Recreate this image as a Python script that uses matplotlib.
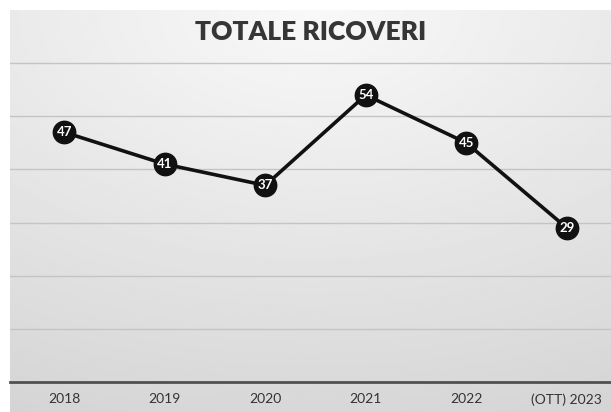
import numpy as np
import matplotlib.pyplot as plt

anni = ["2018", "2019", "2020", "2021", "2022", "(OTT) 2023"]
ricoveri = [47, 41, 37, 54, 45, 29]

W, H = 611, 412
fig = plt.figure(figsize=(W / 100, H / 100), dpi=100)
fig.patch.set_facecolor("white")

# sfondo grigio sfumato (chiaro in alto al centro, più scuro verso il basso)
bg = fig.add_axes([10 / W, 0, 1 - 10 / W, 402 / H])
yy, xx = np.mgrid[0:1:200j, 0:1:300j]
d = np.sqrt(((xx - 0.5) * 0.9) ** 2 + (yy * 1.0) ** 2)
shade = 0.975 - 0.13 * np.clip(d, 0, 1.1)
bg.imshow(shade, cmap="gray", vmin=0, vmax=1, aspect="auto", origin="upper",
          extent=[0, 1, 0, 1])
bg.axis("off")

ax = fig.add_axes([10 / W, 30 / H, 1 - 10 / W, 372 / H])
ax.patch.set_alpha(0)
x = np.arange(len(anni))
ax.set_xlim(-0.54, 5.44)
ax.set_ylim(0, 70)

for v in range(10, 70, 10):
    ax.axhline(v, color="#c4c4c4", lw=1.0, zorder=1)

ax.plot(x, ricoveri, color="#111111", lw=2.6, zorder=3)
ax.scatter(x, ricoveri, s=260, color="#111111", zorder=4)
for xi, v in zip(x, ricoveri):
    ax.text(xi, v, str(v), ha="center", va="center", color="white",
            fontsize=9.5, fontweight="bold", family="Lato", zorder=5)

ax.set_xticks(x)
ax.set_xticklabels(anni, family="Lato", fontsize=10, color="#333333")
ax.tick_params(axis="x", length=0, pad=8)
ax.set_yticks([])
for s in ["top", "right", "left"]:
    ax.spines[s].set_visible(False)
ax.spines["bottom"].set_color("#505050")
ax.spines["bottom"].set_linewidth(2)

ax.text(0.5, 0.94, "TOTALE RICOVERI", transform=ax.transAxes, ha="center",
        va="center", fontsize=19, fontweight="heavy", family="Lato",
        color="#363636")

fig.savefig("out.png", dpi=100)
